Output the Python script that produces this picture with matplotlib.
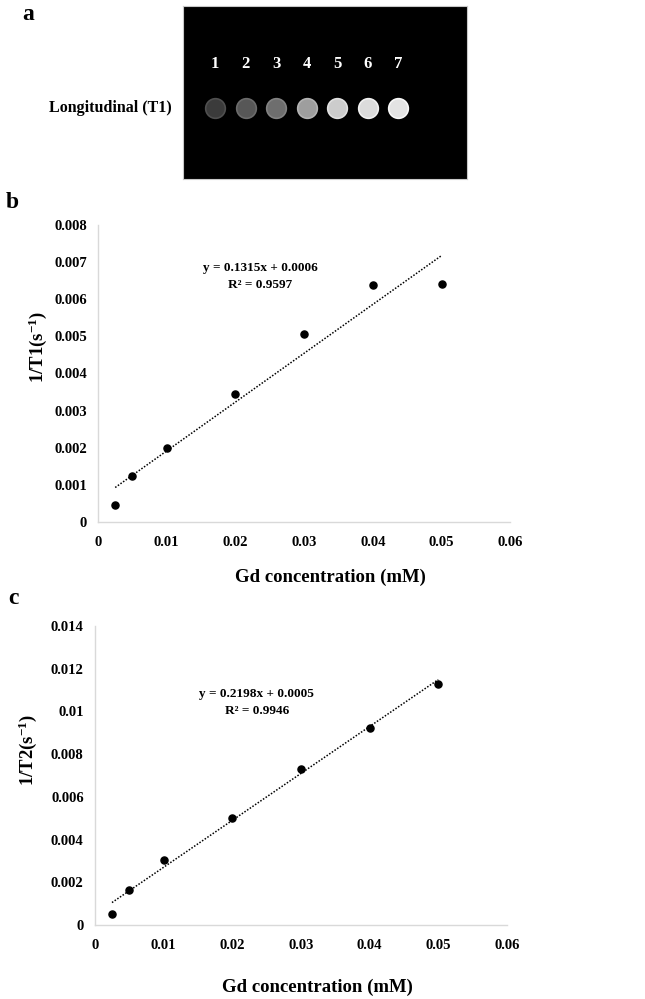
import numpy as np
import matplotlib
matplotlib.use("Agg")
import matplotlib.pyplot as plt

plt.rcParams['font.family'] = ['Liberation Serif', 'DejaVu Serif']
plt.rcParams['font.weight'] = 'bold'
plt.rcParams['axes.labelweight'] = 'bold'
plt.rcParams['mathtext.fontset'] = 'custom'
plt.rcParams['mathtext.rm'] = 'Liberation Serif:bold'
plt.rcParams['mathtext.bf'] = 'Liberation Serif:bold'
plt.rcParams['mathtext.default'] = 'rm'

# panel a: phantom spots
samples = [1, 2, 3, 4, 5, 6, 7]
spot_gray = [0.23, 0.34, 0.43, 0.62, 0.80, 0.86, 0.89]

# concentrations (mM)
conc = [0.0025, 0.005, 0.01, 0.02, 0.03, 0.04, 0.05]

# panel b: 1/T1
r1 = [0.00045, 0.00125, 0.00198, 0.00345, 0.00505, 0.00637, 0.0064]
fit1 = [0.1315, 0.0006]
eq1 = ["y = 0.1315x + 0.0006", "R² = 0.9597"]
yt1 = [0, 0.001, 0.002, 0.003, 0.004, 0.005, 0.006, 0.007, 0.008]
ytl1 = ["0", "0.001", "0.002", "0.003", "0.004", "0.005", "0.006", "0.007", "0.008"]

# panel c: 1/T2
r2 = [0.0005, 0.00165, 0.00305, 0.005, 0.0073, 0.0092, 0.0113]
fit2 = [0.2198, 0.0005]
eq2 = ["y = 0.2198x + 0.0005", "R² = 0.9946"]
yt2 = [0, 0.002, 0.004, 0.006, 0.008, 0.01, 0.012, 0.014]
ytl2 = ["0", "0.002", "0.004", "0.006", "0.008", "0.01", "0.012", "0.014"]

xt = [0, 0.01, 0.02, 0.03, 0.04, 0.05, 0.06]
xtl = ["0", "0.01", "0.02", "0.03", "0.04", "0.05", "0.06"]

fig = plt.figure(figsize=(6.45, 9.99), dpi=100)

# ---- panel a
axa = fig.add_axes([0.2837, 0.8208, 0.4403, 0.1732])
axa.set_facecolor('black')
axa.set_xlim(-0.05, 9.26)
axa.set_ylim(0, 1)
for s in axa.spines.values():
    s.set_color('#c8c8c8')
    s.set_linewidth(0.8)
axa.set_xticks([])
axa.set_yticks([])
for i, g in zip(samples, spot_gray):
    axa.scatter([i], [0.41], s=200, color=str(g), edgecolors=str(min(1.0, g + 0.08)),
                linewidths=1.2, zorder=3)
    axa.text(i, 0.665, str(i), color='white', fontsize=12, ha='center', va='center')
fig.text(172 / 645, 1 - 108 / 999, "Longitudinal (T1)", fontsize=11.5, ha='right', va='center')
fig.text(28 / 645, 1 - 14 / 999, "a", fontsize=17, ha='center', va='center')


def scatter_panel(rect, y, fit, eq, yt, ytl, ylabel, xlab_pos, ylab_pos, eq_pos):
    ax = fig.add_axes(rect)
    ax.scatter(conc, y, s=26, color='black', zorder=3)
    xf = np.array([conc[0], conc[-1]])
    ax.plot(xf, fit[0] * xf + fit[1], color='black', linestyle=(0, (1, 1.1)), linewidth=1.1)
    ax.set_xlim(0, 0.06)
    ax.set_ylim(yt[0], yt[-1])
    ax.set_xticks(xt)
    ax.set_xticklabels(xtl)
    ax.set_yticks(yt)
    ax.set_yticklabels(ytl)
    ax.tick_params(length=0, labelsize=10.5)
    ax.tick_params(axis='x', pad=10)
    ax.tick_params(axis='y', pad=8)
    for k in ['top', 'right']:
        ax.spines[k].set_visible(False)
    for k in ['left', 'bottom']:
        ax.spines[k].set_color('#d9d9d9')
        ax.spines[k].set_linewidth(1)
    ax.set_xlabel("Gd concentration (mM)", fontsize=13.5, fontweight='bold')
    ax.xaxis.set_label_coords(*xlab_pos)
    ax.set_ylabel(ylabel, fontsize=13.5, fontweight='bold')
    ax.yaxis.set_label_coords(*ylab_pos)
    ax.text(eq_pos[0], eq_pos[1], eq[0], transform=ax.transAxes, fontsize=9.5,
            ha='center', va='center')
    ax.text(eq_pos[0], eq_pos[2], eq[1], transform=ax.transAxes, fontsize=9.5,
            ha='center', va='center')
    return ax


scatter_panel([0.152, 0.4775, 0.639, 0.2973], r1, fit1, eq1, yt1, ytl1,
              "1/T1(s$^{-1}$)", (0.563, -0.158), (-0.12, 0.589), (0.393, 0.855, 0.798))
fig.text(12 / 645, 1 - 203 / 999, "b", fontsize=17, ha='center', va='center')

scatter_panel([0.147, 0.0741, 0.639, 0.2993], r2, fit2, eq2, yt2, ytl2,
              "1/T2(s$^{-1}$)", (0.541, -0.178), (-0.135, 0.585), (0.393, 0.773, 0.716))
fig.text(13 / 645, 1 - 598 / 999, "c", fontsize=17, ha='center', va='center')

fig.savefig("out.png", dpi=100)
